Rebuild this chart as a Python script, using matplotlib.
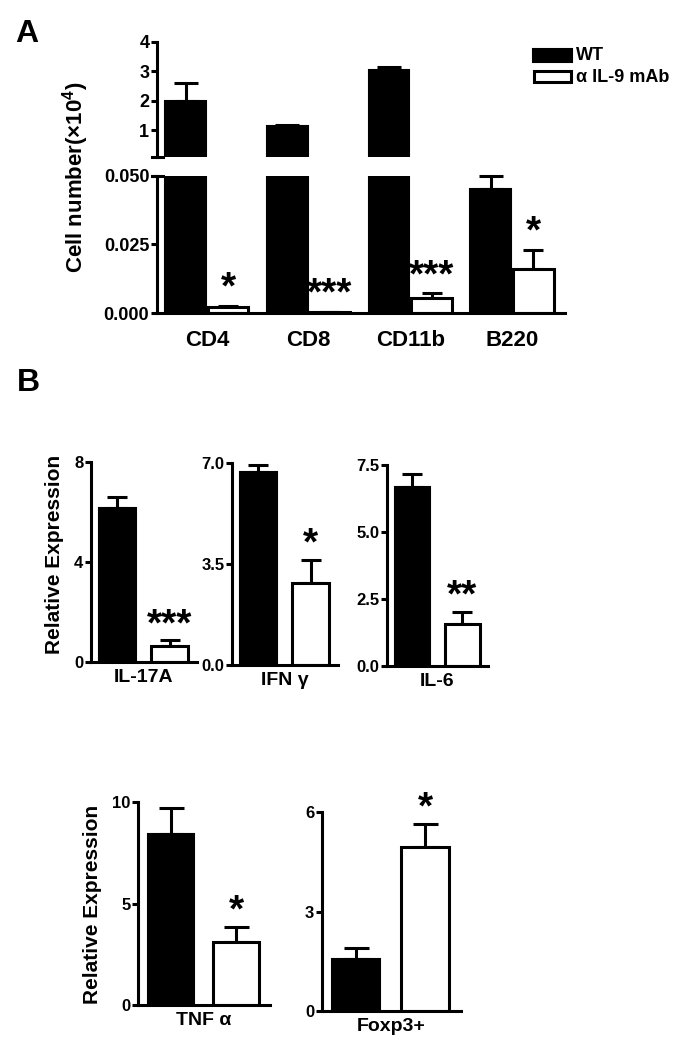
import numpy as np
import matplotlib
matplotlib.use("Agg")
import matplotlib.pyplot as plt
from matplotlib.patches import Rectangle

plt.rcParams['font.family'] = ['Liberation Sans', 'DejaVu Sans']
plt.rcParams['font.weight'] = 'bold'
plt.rcParams['axes.labelweight'] = 'bold'
plt.rcParams['mathtext.fontset'] = 'custom'
plt.rcParams['mathtext.rm'] = 'Liberation Sans:bold'
plt.rcParams['mathtext.bf'] = 'Liberation Sans:bold'

# Panel A: cell number (x10^4)
cells = ["CD4", "CD8", "CD11b", "B220"]
wt_mean = [2.0, 1.15, 3.05, 0.0453]
wt_err = [0.6, 0.02, 0.11, 0.0047]
ab_mean = [0.0023, 0.0004, 0.0053, 0.0161]
ab_err = [0.0004, 0.0001, 0.0020, 0.0069]
stars_a = ["*", "***", "***", "*"]

# Panel B: relative expression
genes = ["IL-17A", "IFN γ", "IL-6", "TNF α", "Foxp3+"]
expr_wt = [6.17, 6.70, 6.67, 8.42, 1.56]
expr_wt_err = [0.42, 0.23, 0.49, 1.30, 0.35]
expr_ab = [0.64, 2.85, 1.56, 3.12, 4.95]
expr_ab_err = [0.24, 0.79, 0.46, 0.74, 0.70]
stars_b = ["***", "*", "**", "*", "*"]
yticks_b = [[0, 4, 8], [0.0, 3.5, 7.0], [0.0, 2.5, 5.0, 7.5], [0, 5, 10], [0, 3, 6]]
ytick_fmt = ['%d', '%.1f', '%.1f', '%d', '%d']

W, H = 682, 1050
fig = plt.figure(figsize=(W / 100, H / 100), dpi=100)

LW = 2.2


def add_ax(left, right, top, bottom):
    # pixel box -> figure fraction
    return fig.add_axes([left / W, 1 - bottom / H, (right - left) / W, (bottom - top) / H])


def style_ax(ax, ticksize):
    for s in ['top', 'right']:
        ax.spines[s].set_visible(False)
    for s in ['left', 'bottom']:
        ax.spines[s].set_linewidth(LW)
    ax.tick_params(axis='y', direction='out', length=4.5, width=LW, pad=1, labelsize=ticksize)
    ax.tick_params(axis='x', length=0)


def draw_err(ax, x, m, e, cap, lim):
    if m < lim[0] or m + e > lim[1] * 1.01:
        return
    ax.errorbar(x, m, yerr=[[0], [e]], fmt='none', ecolor='k', elinewidth=LW,
                capsize=cap, capthick=LW, clip_on=False, zorder=1)


# ---------------- panel A ----------------
xa = np.arange(len(cells))
off, bw = 0.209, 0.40
ax_top = add_ax(157, 565, 42, 157)
ax_bot = add_ax(157, 565, 176, 313)
lims = {ax_top: (0.08, 4.0), ax_bot: (0.0, 0.05)}
for ax in (ax_top, ax_bot):
    style_ax(ax, 13)
    lo, hi = lims[ax]
    ax.set_xlim(-0.49, 3.52)
    ax.set_ylim(lo, hi)
    for i in range(len(cells)):
        if wt_mean[i] > lo:
            ax.bar(xa[i] - off, wt_mean[i], bw, color='k', edgecolor='k', linewidth=1.5, zorder=2)
        if ab_mean[i] > lo:
            ax.bar(xa[i] + off, ab_mean[i], bw, color='w', edgecolor='k', linewidth=LW, zorder=2)
        draw_err(ax, xa[i] - off, wt_mean[i], wt_err[i], 8.5, lims[ax])
        draw_err(ax, xa[i] + off, ab_mean[i], ab_err[i], 7, lims[ax])

ax_top.spines['bottom'].set_visible(False)
ax_top.set_xticks([])
ax_top.set_yticks([1, 2, 3, 4])
ax_top.plot([-0.012, 0.014], [0, 0], transform=ax_top.transAxes, color='k', lw=LW, clip_on=False)
ax_bot.plot([-0.012, 0.014], [1, 1], transform=ax_bot.transAxes, color='k', lw=LW, clip_on=False)
ax_bot.set_yticks([0, 0.025, 0.05])
ax_bot.set_yticklabels(['0.000', '0.025', '0.050'], fontweight='bold')
ax_bot.set_xticks(xa)
ax_bot.set_xticklabels(cells, fontsize=16, fontweight='bold')
ax_bot.tick_params(axis='x', pad=12)

for i in range(len(cells)):
    ax_bot.annotate(stars_a[i], xy=(xa[i] + off, ab_mean[i] + ab_err[i]), xytext=(0, 7),
                    textcoords='offset pixels', ha='center', va='baseline', fontsize=28)

fig.text(76 / W, 1 - 177 / H, r'Cell number($\times$10$^{\mathbf{4}}$)', rotation=90,
         ha='center', va='center', fontsize=16)

# legend
fig.add_artist(Rectangle((533 / W, 1 - 62 / H), 39 / W, 13 / H, transform=fig.transFigure,
                         facecolor='k', edgecolor='k', lw=1.5))
fig.add_artist(Rectangle((534 / W, 1 - 82 / H), 37 / W, 11 / H, transform=fig.transFigure,
                         facecolor='w', edgecolor='k', lw=LW))
fig.text(576 / W, 1 - 56 / H, 'WT', va='center', fontsize=13)
fig.text(576 / W, 1 - 77 / H, 'α IL-9 mAb', va='center', fontsize=13)

fig.text(15 / W, 1 - 42 / H, 'A', fontsize=23, va='baseline')
fig.text(17 / W, 1 - 391 / H, 'B', fontsize=23, va='baseline')

# ---------------- panel B ----------------
boxes = [(91, 197, 462, 662), (232, 338, 463, 665), (387, 488, 465, 666),
         (138, 270, 802, 1005), (322, 461, 812, 1011)]
caps = [7, 7, 7, 9, 9]
for k, g in enumerate(genes):
    ax = add_ax(*boxes[k])
    style_ax(ax, 12)
    yt = yticks_b[k]
    ax.set_ylim(0, yt[-1])
    ax.set_xlim(-0.5, 1.52)
    ax.set_yticks(yt)
    ax.set_yticklabels([ytick_fmt[k] % v for v in yt], fontweight='bold')
    ax.bar(0, expr_wt[k], 0.70, color='k', edgecolor='k', linewidth=1.5, zorder=2)
    ax.bar(1, expr_ab[k], 0.70, color='w', edgecolor='k', linewidth=LW, zorder=2)
    draw_err(ax, 0, expr_wt[k], expr_wt_err[k], caps[k], (0, yt[-1]))
    draw_err(ax, 1, expr_ab[k], expr_ab_err[k], caps[k], (0, yt[-1]))
    ax.set_xticks([])
    ax.set_xlabel(g, fontsize=14, fontweight='bold', labelpad=5)
    ax.annotate(stars_b[k], xy=(1, expr_ab[k] + expr_ab_err[k]), xytext=(0, 5),
                textcoords='offset pixels', ha='center', va='baseline', fontsize=28)

fig.text(55 / W, 1 - 554 / H, 'Relative Expression', rotation=90, ha='center', va='center', fontsize=15)
fig.text(92 / W, 1 - 904 / H, 'Relative Expression', rotation=90, ha='center', va='center', fontsize=15)

fig.savefig('out.png', dpi=100)
